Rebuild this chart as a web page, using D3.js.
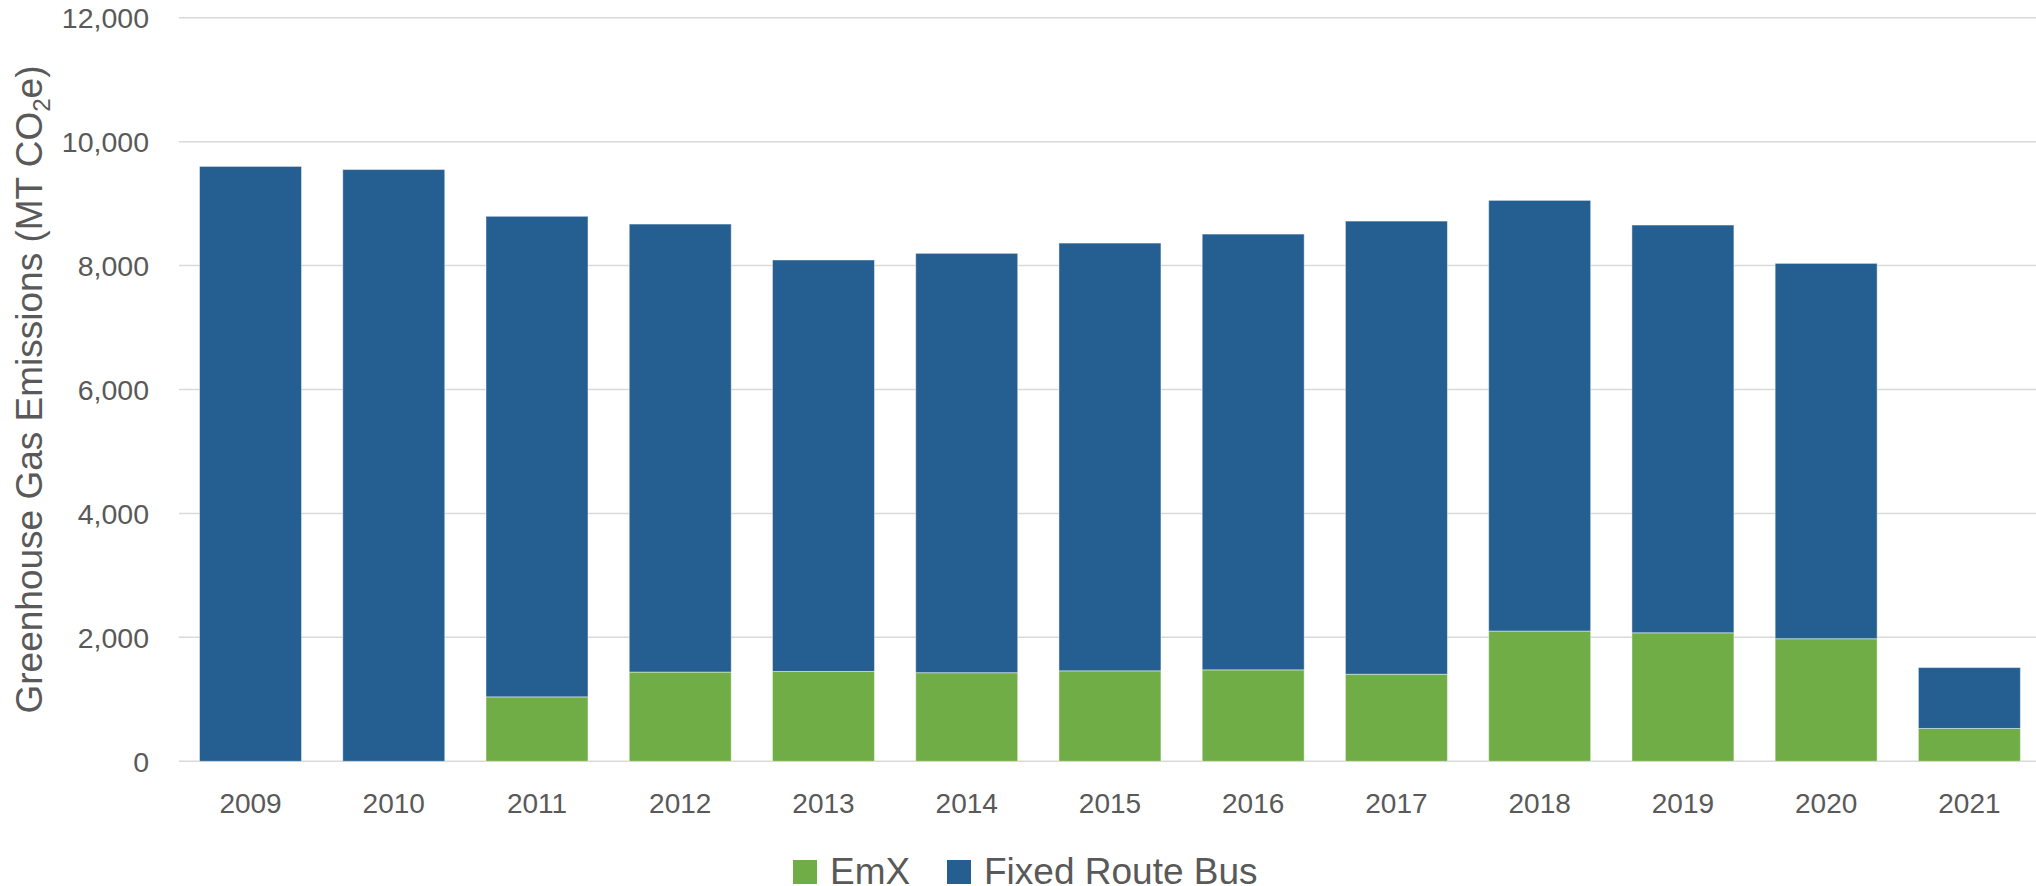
<!DOCTYPE html>
<html>
<head>
<meta charset="utf-8">
<script src="https://cdn.jsdelivr.net/npm/d3@7"></script>
<style>
  html, body { margin: 0; padding: 0; background: #fff; }
  svg { display: block; }
  text { font-family: "Liberation Sans", Arial, sans-serif; fill: #595959; }
</style>
</head>
<body>
<svg id="chart" width="2036" height="886"></svg>
<script>
const years = ["2009","2010","2011","2012","2013","2014","2015","2016","2017","2018","2019","2020","2021"];
const emx = [0, 0, 1040, 1440, 1450, 1430, 1460, 1476, 1405, 2102, 2074, 1978, 530];
const fixedRouteBus = [9600, 9550, 7755, 7230, 6640, 6767, 6903, 7032, 7313, 6950, 6580, 6057, 983];
const yTicks = [0, 2000, 4000, 6000, 8000, 10000, 12000];
const seriesNames = ["EmX", "Fixed Route Bus"];
const seriesColors = ["#70AD47", "#255E91"];

const svg = d3.select("#chart");
const x = d3.scaleBand().domain(years).range([178.9, 2041]).paddingInner(0.288).paddingOuter(0.144);
const y = d3.scaleLinear().domain([0, 12000]).range([761.3, 17.7]);

// gridlines
svg.append("g").selectAll("line").data(yTicks).join("line")
  .attr("x1", 178.9).attr("x2", 2036)
  .attr("y1", d => y(d)).attr("y2", d => y(d))
  .attr("stroke", "#D9D9D9").attr("stroke-width", 1.5);

// stacked bars
const rows = years.map((yr, i) => ({ year: yr, EmX: emx[i], "Fixed Route Bus": fixedRouteBus[i] }));
const stacked = d3.stack().keys(seriesNames)(rows);
svg.append("g").selectAll("g").data(stacked).join("g")
  .attr("fill", (d, i) => seriesColors[i])
  .selectAll("rect").data(d => d.filter(s => s[1] - s[0] > 0)).join("rect")
  .attr("x", d => x(d.data.year))
  .attr("width", x.bandwidth())
  .attr("y", d => y(d[1]))
  .attr("height", d => y(d[0]) - y(d[1]))
  .attr("stroke", "rgba(255,255,255,0.45)").attr("stroke-width", 1);

// y axis labels
const yAxis = d3.axisLeft(y).tickValues(yTicks).tickFormat(d3.format(",")).tickSize(0).tickPadding(0);
const ya = svg.append("g").attr("transform", "translate(149,0)").call(yAxis);
ya.select(".domain").remove();
ya.selectAll("text").attr("font-size", 28.5).attr("font-family", "Liberation Sans, Arial, sans-serif").attr("fill", "#595959").attr("dy", "0.36em");

// x axis labels
const xAxis = d3.axisBottom(x).tickSize(0).tickPadding(0);
const xa = svg.append("g").attr("transform", "translate(0,0)").call(xAxis);
xa.select(".domain").remove();
xa.selectAll("text").attr("font-size", 28).attr("font-family", "Liberation Sans, Arial, sans-serif").attr("fill", "#595959").attr("y", 812.5).attr("dy", 0);

// y axis title
const title = svg.append("text")
  .attr("transform", "translate(41.5," + ((y(0) + y(12000)) / 2) + ") rotate(-90)")
  .attr("text-anchor", "middle")
  .attr("font-size", 37);
title.append("tspan").text("Greenhouse Gas Emissions (MT CO");
title.append("tspan").text("2").attr("font-size", 24).attr("dy", 8);
title.append("tspan").text("e)").attr("dy", -8);

// legend
const legend = svg.append("g");
const items = [{ name: seriesNames[0], color: seriesColors[0], x: 793 }, { name: seriesNames[1], color: seriesColors[1], x: 947 }];
items.forEach(it => {
  legend.append("rect").attr("x", it.x).attr("y", 860).attr("width", 24).attr("height", 24).attr("fill", it.color);
  legend.append("text").attr("x", it.x + 37).attr("y", 884).attr("font-size", 37).text(it.name);
});
</script>
</body>
</html>
